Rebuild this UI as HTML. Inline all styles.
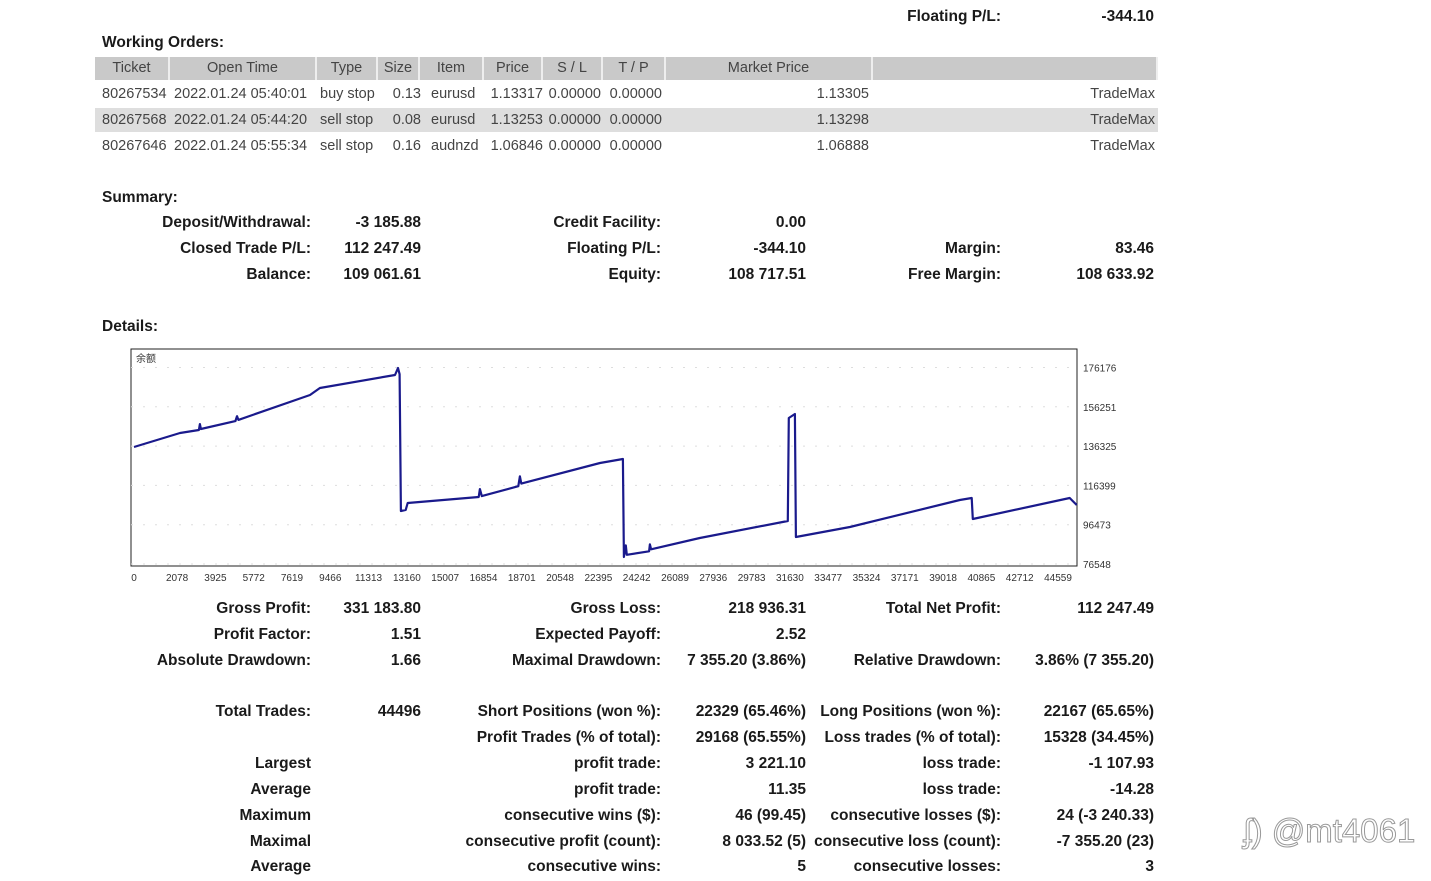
<!DOCTYPE html>
<html><head><meta charset="utf-8">
<style>
body{margin:0;width:1431px;height:881px;background:#fff;position:relative;overflow:hidden;font-family:"Liberation Sans","DejaVu Sans",sans-serif;color:#1a1a1a}
.t{position:absolute;font-size:15.5px;font-weight:bold;white-space:nowrap;line-height:18px}
.c{position:absolute;font-size:14.5px;color:#444;white-space:nowrap;line-height:18px}
.hd{position:absolute;top:57px;height:23px;background:#c9c9c9;border-right:2px solid #eee;font-size:14.5px;color:#444;text-align:center;line-height:23px;box-sizing:border-box}
</style></head>
<body>
<div id="root"></div>
<script>
const root=document.body;
function T(txt,x,y,align,name){const d=document.createElement('div');d.className='t';d.textContent=txt;
d.style.top=(y-9)+'px';
if(align==='r'){d.style.right=(1431-x)+'px';}else d.style.left=x+'px';


root.appendChild(d);}
T('Floating P/L:',1001,17,'r','floating-pl-label');T('-344.10',1154,17,'r','floating-pl-value');
T('Working Orders:',102,43,'l','working-orders-title');
const hcols=[['Ticket',95,170],['Open Time',170,317],['Type',317,378],['Size',378,420],['Item',420,484],['Price',484,543],['S / L',543,603],['T / P',603,666],['Market Price',666,873],['',873,1158]];
for(const h of hcols){const d=document.createElement('div');d.className='hd';d.style.left=h[1]+'px';d.style.width=(h[2]-h[1])+'px';d.textContent=h[0];


root.appendChild(d);}
const rb=document.createElement('div');rb.style.cssText='position:absolute;left:95px;top:108px;width:1063px;height:24px;background:#dedede';


root.appendChild(rb);
const rows=[['80267534','2022.01.24 05:40:01','buy stop','0.13','eurusd','1.13317','0.00000','0.00000','1.13305','TradeMax'],
['80267568','2022.01.24 05:44:20','sell stop','0.08','eurusd','1.13253','0.00000','0.00000','1.13298','TradeMax'],
['80267646','2022.01.24 05:55:34','sell stop','0.16','audnzd','1.06846','0.00000','0.00000','1.06888','TradeMax']];
const cx=[[102,'l'],[174,'l'],[320,'l'],[421,'r'],[431,'l'],[543,'r'],[601,'r'],[662,'r'],[869,'r'],[1155,'r']];
rows.forEach((r,i)=>{const y=94+i*26;r.forEach((v,j)=>{const d=document.createElement('div');d.className='c';d.textContent=v;d.style.top=(y-9)+'px';
if(cx[j][1]==='r')d.style.right=(1431-cx[j][0])+'px';else d.style.left=cx[j][0]+'px';


root.appendChild(d);});});
T('Summary:',102,198,'l','summary-title');
const S=[['Deposit/Withdrawal:','-3 185.88',223,0],['Closed Trade P/L:','112 247.49',249,0],['Balance:','109 061.61',275,0],
['Credit Facility:','0.00',223,1],['Floating P/L:','-344.10',249,1],['Equity:','108 717.51',275,1],
['Margin:','83.46',249,2],['Free Margin:','108 633.92',275,2],
['Gross Profit:','331 183.80',609,0],['Profit Factor:','1.51',635,0],['Absolute Drawdown:','1.66',661,0],
['Gross Loss:','218 936.31',609,1],['Expected Payoff:','2.52',635,1],['Maximal Drawdown:','7 355.20 (3.86%)',661,1],
['Total Net Profit:','112 247.49',609,2],['Relative Drawdown:','3.86% (7 355.20)',661,2],
['Total Trades:','44496',712,0],['Largest','',764,0],['Average','',790,0],['Maximum','',816,0],['Maximal','',842,0],['Average','',867,0],
['Short Positions (won %):','22329 (65.46%)',712,1],['Profit Trades (% of total):','29168 (65.55%)',738,1],['profit trade:','3 221.10',764,1],['profit trade:','11.35',790,1],['consecutive wins ($):','46 (99.45)',816,1],['consecutive profit (count):','8 033.52 (5)',842,1],['consecutive wins:','5',867,1],
['Long Positions (won %):','22167 (65.65%)',712,2],['Loss trades (% of total):','15328 (34.45%)',738,2],['loss trade:','-1 107.93',764,2],['loss trade:','-14.28',790,2],['consecutive losses ($):','24 (-3 240.33)',816,2],['consecutive loss (count):','-7 355.20 (23)',842,2],['consecutive losses:','3',867,2]];
const LX=[311,661,1001],VX=[421,806,1154];
for(const s of S){T(s[0],LX[s[3]],s[2],'r','stat-label');if(s[1])T(s[1],VX[s[3]],s[2],'r','stat-value');}
T('Details:',102,327,'l','details-title');
</script>
<svg id="chart" width="1431" height="881" style="position:absolute;left:0;top:0" font-family="Liberation Sans, Noto Sans CJK SC, sans-serif"></svg>
<div style="position:absolute;left:1243px;top:812px;font-size:33px;color:#fff;-webkit-text-stroke:1px #999;font-family:'Liberation Sans',sans-serif">ʄ) @mt4061</div>
<script>
const yTicks=[76548,96473,116399,136325,156251,176176];
const xTicks=[0,2078,3925,5772,7619,9466,11313,13160,15007,16854,18701,20548,22395,24242,26089,27936,29783,31630,33477,35324,37171,39018,40865,42712,44559];
const trades=[0,2218,3128,3177,3226,4888,4966,5035,8487,8966,12585,12732,12810,12869,13103,13201,16624,16683,16771,18531,18610,18678,22473,23578,23627,23715,23764,24839,24879,24937,27284,31529,31578,31871,31920,34522,39822,40399,40448,45121,45463];
const balance=[135867,142960,144500,147500,145000,149000,151500,149600,162230,165780,172370,175920,172800,103420,104000,107500,110520,114500,111000,116000,121000,117300,127760,129790,80100,86000,81200,83000,86500,84000,89730,98350,150570,152600,90240,95310,108990,110000,99360,110000,106460];
const svg=document.getElementById('chart');const NS='http://www.w3.org/2000/svg';
const L=131,R=1077,TOP=349,B=566;
const xS=t=>134+t/44559*924;
const yS=v=>564-(v-76548)/19926*39.3;
function el(n,a){const e=document.createElementNS(NS,n);for(const k in a)e.setAttribute(k,a[k]);svg.appendChild(e);return e;}
const fr=el('rect',{x:L,y:TOP,width:R-L,height:B-TOP,fill:'#fff',stroke:'#222','stroke-width':1});


for(const v of yTicks){const t=el('text',{x:1083,y:yS(v)+4,'font-size':10,fill:'#333'});t.textContent=v;


const g=el('line',{x1:L,x2:R,y1:yS(v),y2:yS(v),stroke:'#ddd','stroke-dasharray':'2 10'});

}
for(const v of xTicks){const t=el('text',{x:xS(v),y:581,'font-size':10,fill:'#333','text-anchor':'middle'});t.textContent=v;

}
const lt=el('text',{x:136,y:362,'font-size':10,fill:'#333'});lt.textContent='余额';


const pts=trades.map((t,i)=>Math.max(L,xS(t)).toFixed(1)+','+yS(balance[i]).toFixed(1)).join(' ');
const pl=el('polyline',{points:pts,fill:'none',stroke:'#1a1a8c','stroke-width':2.2,'stroke-linejoin':'round'});


</script>
</body></html>
